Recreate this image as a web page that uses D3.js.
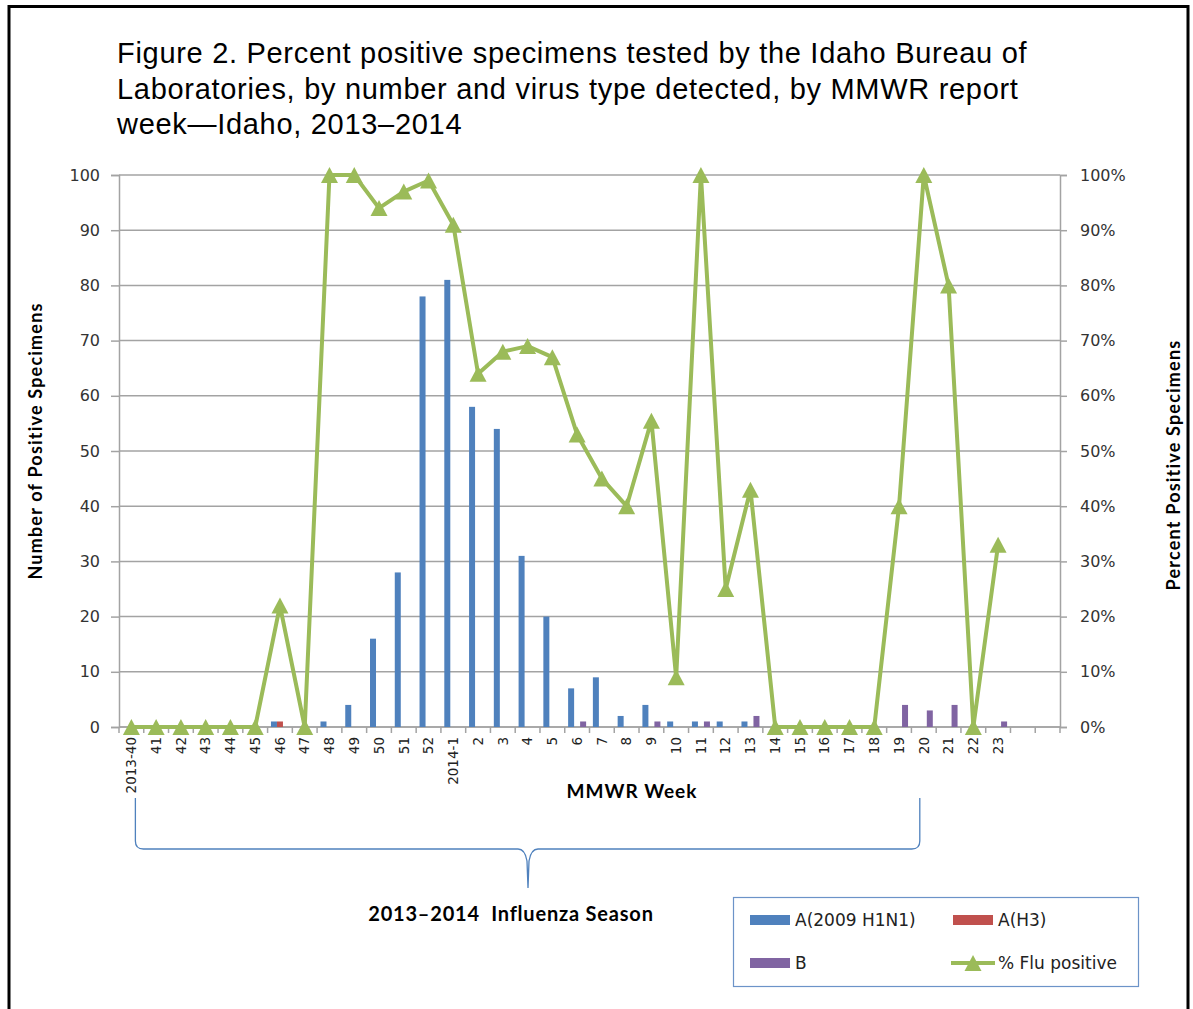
<!DOCTYPE html>
<html>
<head>
<meta charset="utf-8">
<script src="https://cdn.jsdelivr.net/npm/d3@7"></script>
<style>
  html, body { margin: 0; padding: 0; background: #fff; }
  svg { display: block; }
</style>
</head>
<body>
<svg id="chart" width="1193" height="1009"></svg>
<script>
// MMWR report weeks, 2013-40 through 2014-23
const weeks = ["2013-40","41","42","43","44","45","46","47","48","49","50","51","52",
  "2014-1","2","3","4","5","6","7","8","9","10","11","12","13","14","15","16","17","18",
  "19","20","21","22","23"];

// Positive specimens by virus type
const h1n1 = [0,0,0,0,0,0,1,0,1,4,16,28,78,81,58,54,31,20,7,9,2,4,1,1,1,1,0,0,0,0,0,0,0,0,0,0];
const h3   = [0,0,0,0,0,0,1,0,0,0,0,0,0,0,0,0,0,0,0,0,0,0,0,0,0,0,0,0,0,0,0,0,0,0,0,0];
const fluB = [0,0,0,0,0,0,0,0,0,0,0,0,0,0,0,0,0,0,1,0,0,1,0,1,0,2,0,0,0,0,0,4,3,4,0,1];

// Percent of tested specimens that were flu positive
const pctPositive = [0,0,0,0,0,0,22,0,100,100,94,97,99,91,64,68,69,67,53,45,40,55.5,9,100,25,43,0,0,0,0,0,40,100,80,0,33];

const seriesNames = ["A(2009 H1N1)", "A(H3)", "B"];
const lineName = "% Flu positive";
const countTicks = [0,10,20,30,40,50,60,70,80,90,100];
const pctTicks = [0,0.1,0.2,0.3,0.4,0.5,0.6,0.7,0.8,0.9,1];

const colors = { h1n1: "#4F81BD", h3: "#C0504D", b: "#8064A2", line: "#9BBB59" };
const tickFont = "'DejaVu Sans', Verdana, sans-serif";
const boldFont = "Lato, 'Open Sans', sans-serif";

const svg = d3.select("#chart");

// outer frame
svg.append("path")
  .attr("d", "M9,1009 V6.5 H1188 V1009")
  .attr("fill", "none").attr("stroke", "#000").attr("stroke-width", 3);

// title
const title = svg.append("text")
  .attr("font-family", "'Liberation Sans', Arial, sans-serif")
  .attr("font-size", 29).attr("letter-spacing", 0.7).attr("fill", "#000");
["Figure 2. Percent positive specimens tested by the Idaho Bureau of",
 "Laboratories, by number and virus type detected, by MMWR report",
 "week\u2014Idaho, 2013\u20132014"].forEach((t, i) => {
  title.append("tspan").attr("x", 117).attr("y", 63 + i * 35.5).text(t);
});

const plot = { left: 119, right: 1060, top: 175, bottom: 727 };
const trailingSlots = 2; // empty slots after the last reported week
const slots = d3.range(weeks.length + trailingSlots);

const x = d3.scaleBand().domain(slots).range([plot.left, plot.right]).padding(0);
const yCount = d3.scaleLinear().domain([0, 100]).range([plot.bottom, plot.top]);
const yPct = d3.scaleLinear().domain([0, 1]).range([plot.bottom, plot.top]);
const keys = ["h1n1", "h3", "b"];
const xInner = d3.scaleBand().domain(keys).range([-9, 9]).padding(0);

// gridlines
svg.append("g").selectAll("line").data(countTicks).join("line")
  .attr("x1", plot.left).attr("x2", plot.right)
  .attr("y1", d => yCount(d)).attr("y2", d => yCount(d))
  .attr("stroke", "#a3a3a3").attr("stroke-width", 1.5);

// left axis
const leftAxis = svg.append("g").attr("transform", `translate(${plot.left},0)`)
  .call(d3.axisLeft(yCount).tickValues(countTicks).tickSize(8).tickPadding(11));
leftAxis.select(".domain").attr("stroke", "#a3a3a3").attr("stroke-width", 1.5);
leftAxis.selectAll(".tick line").attr("stroke", "#a3a3a3").attr("stroke-width", 1.5);
leftAxis.selectAll("text").attr("font-family", tickFont).attr("font-size", 16).attr("fill", "#333");

// right axis
const rightAxis = svg.append("g").attr("transform", `translate(${plot.right},0)`)
  .call(d3.axisRight(yPct).tickValues(pctTicks).tickSize(7).tickPadding(13).tickFormat(d3.format(".0%")));
rightAxis.select(".domain").attr("stroke", "#a3a3a3").attr("stroke-width", 1.5);
rightAxis.selectAll(".tick line").attr("stroke", "#a3a3a3").attr("stroke-width", 1.5);
rightAxis.selectAll("text").attr("font-family", tickFont).attr("font-size", 16).attr("fill", "#333");

// bottom axis: ticks on category boundaries, labels rotated at centers
svg.append("line")
  .attr("x1", plot.left).attr("x2", plot.right)
  .attr("y1", plot.bottom).attr("y2", plot.bottom)
  .attr("stroke", "#a3a3a3").attr("stroke-width", 1.5);
svg.append("g").selectAll("line").data(slots.concat([slots.length])).join("line")
  .attr("x1", d => d < slots.length ? x(d) : plot.right)
  .attr("x2", d => d < slots.length ? x(d) : plot.right)
  .attr("y1", plot.bottom).attr("y2", plot.bottom + 6)
  .attr("stroke", "#a3a3a3").attr("stroke-width", 1.5);

const bottomAxis = svg.append("g").attr("transform", `translate(0,${plot.bottom})`)
  .call(d3.axisBottom(x).tickValues(d3.range(weeks.length)).tickSize(0).tickFormat(i => weeks[i]));
bottomAxis.select(".domain").remove();
bottomAxis.selectAll("text")
  .attr("font-family", tickFont).attr("font-size", 13.5).attr("fill", "#222")
  .attr("transform", "rotate(-90)")
  .attr("text-anchor", "end")
  .attr("x", -10).attr("y", 0).attr("dy", "0.35em");

// bars
const barData = [];
weeks.forEach((w, i) => {
  barData.push({ i, key: "h1n1", v: h1n1[i] });
  barData.push({ i, key: "h3", v: h3[i] });
  barData.push({ i, key: "b", v: fluB[i] });
});
svg.append("g").selectAll("rect").data(barData.filter(d => d.v > 0)).join("rect")
  .attr("x", d => x(d.i) + x.bandwidth() / 2 + xInner(d.key))
  .attr("width", xInner.bandwidth())
  .attr("y", d => yCount(d.v))
  .attr("height", d => yCount(0) - yCount(d.v))
  .attr("fill", d => colors[d.key]);

// percent-positive line with triangle markers
const cx = i => x(i) + x.bandwidth() / 2;
const line = d3.line().x((d, i) => cx(i)).y(d => yPct(d / 100));
svg.append("path").datum(pctPositive)
  .attr("d", line)
  .attr("fill", "none").attr("stroke", colors.line)
  .attr("stroke-width", 4).attr("stroke-linejoin", "round");

const tri = (px, py) => `M${px - 8.5},${py + 8} L${px},${py - 8} L${px + 8.5},${py + 8} Z`;
svg.append("g").selectAll("path").data(pctPositive).join("path")
  .attr("d", (d, i) => tri(cx(i), yPct(d / 100)))
  .attr("fill", colors.line);

// axis titles
svg.append("text")
  .attr("transform", `translate(42,441) rotate(-90)`)
  .attr("text-anchor", "middle")
  .attr("font-family", boldFont).attr("font-weight", "bold").attr("font-size", 18)
  .attr("letter-spacing", 1.2)
  .text("Number of Positive Specimens");
svg.append("text")
  .attr("transform", `translate(1180,465) rotate(-90)`)
  .attr("text-anchor", "middle")
  .attr("font-family", boldFont).attr("font-weight", "bold").attr("font-size", 18)
  .attr("letter-spacing", 1.2)
  .text("Percent Positive Specimens");
svg.append("text")
  .attr("x", 632).attr("y", 798)
  .attr("text-anchor", "middle")
  .attr("font-family", boldFont).attr("font-weight", "bold").attr("font-size", 19)
  .attr("letter-spacing", 1)
  .text("MMWR Week");

// season brace spanning 2013-40 to 2014-20
const bx0 = cx(0) + 4, bx1 = cx(weeks.indexOf("20")) - 4;
const bmid = 528, btop = 798, bline = 849, btip = 888;
svg.append("path")
  .attr("d", `M${bx0},${btop} V${bline - 8} Q${bx0},${bline} ${bx0 + 8},${bline}
              H${bmid - 10} Q${bmid - 3},${bline} ${bmid - 1},${bline + 12} L${bmid},${btip}
              L${bmid + 1},${bline + 12} Q${bmid + 3},${bline} ${bmid + 10},${bline}
              H${bx1 - 8} Q${bx1},${bline} ${bx1},${bline - 8} V${btop}`)
  .attr("fill", "none").attr("stroke", "#4F81BD").attr("stroke-width", 1.3);

svg.append("text")
  .attr("x", 511).attr("y", 921)
  .attr("text-anchor", "middle")
  .attr("font-family", boldFont).attr("font-weight", "bold").attr("font-size", 20)
  .attr("letter-spacing", 0.8)
  .attr("xml:space", "preserve")
  .text("2013\u20132014  Influenza Season");

// legend
const lg = svg.append("g");
lg.append("rect").attr("x", 733.5).attr("y", 897.5).attr("width", 405).attr("height", 89)
  .attr("fill", "#fff").attr("stroke", "#6c93c8").attr("stroke-width", 1.2);
const legendItems = [
  { name: seriesNames[0], color: colors.h1n1, x: 750, y: 920 },
  { name: seriesNames[1], color: colors.h3, x: 953, y: 920 },
  { name: seriesNames[2], color: colors.b, x: 750, y: 963 }
];
legendItems.forEach(it => {
  lg.append("rect").attr("x", it.x).attr("y", it.y - 5).attr("width", 40).attr("height", 10).attr("fill", it.color);
  lg.append("text").attr("x", it.x + 45).attr("y", it.y).attr("dy", "0.36em")
    .attr("font-family", tickFont).attr("font-size", 17).attr("fill", "#222").text(it.name);
});
lg.append("line").attr("x1", 951).attr("x2", 995).attr("y1", 963).attr("y2", 963)
  .attr("stroke", colors.line).attr("stroke-width", 4);
lg.append("path").attr("d", tri(973, 963)).attr("fill", colors.line);
lg.append("text").attr("x", 998).attr("y", 963).attr("dy", "0.36em")
  .attr("font-family", tickFont).attr("font-size", 17).attr("fill", "#222").text(lineName);
</script>
</body>
</html>
